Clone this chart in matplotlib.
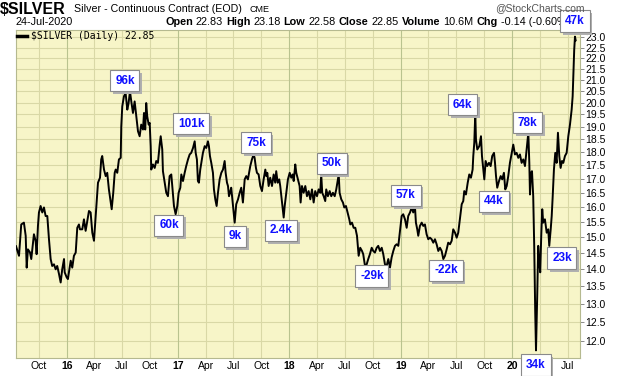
import matplotlib
matplotlib.use('Agg')
import matplotlib.pyplot as plt
import matplotlib.patheffects as pe
from matplotlib.ticker import FixedLocator, FixedFormatter, NullLocator

## DATA (dates as decimal years, daily close)
years = [
    2015.545, 2015.572, 2015.592, 2015.616, 2015.632, 2015.641, 2015.652, 2015.670, 2015.682, 2015.691,
    2015.706, 2015.721, 2015.730, 2015.742, 2015.751, 2015.766, 2015.781, 2015.796, 2015.811, 2015.826,
    2015.841, 2015.856, 2015.870, 2015.886, 2015.901, 2015.915, 2015.931, 2015.946, 2015.960, 2015.976,
    2015.982, 2016.000, 2016.011, 2016.020, 2016.036, 2016.050, 2016.065, 2016.081, 2016.095, 2016.110,
    2016.119, 2016.140, 2016.155, 2016.170, 2016.185, 2016.200, 2016.215, 2016.230, 2016.245, 2016.260,
    2016.269, 2016.281, 2016.299, 2016.310, 2016.319, 2016.335, 2016.350, 2016.364, 2016.379, 2016.395,
    2016.404, 2016.418, 2016.431, 2016.440, 2016.454, 2016.469, 2016.485, 2016.490, 2016.499, 2016.514,
    2016.529, 2016.544, 2016.555, 2016.568, 2016.580, 2016.595, 2016.610, 2016.625, 2016.640, 2016.655,
    2016.669, 2016.685, 2016.694, 2016.705, 2016.714, 2016.723, 2016.736, 2016.745, 2016.754, 2016.759,
    2016.774, 2016.790, 2016.804, 2016.819, 2016.835, 2016.844, 2016.858, 2016.864, 2016.880, 2016.894,
    2016.909, 2016.924, 2016.939, 2016.948, 2016.963, 2016.978, 2016.993, 2017.005, 2017.020, 2017.029,
    2017.044, 2017.059, 2017.073, 2017.089, 2017.104, 2017.118, 2017.134, 2017.149, 2017.158, 2017.169,
    2017.178, 2017.187, 2017.199, 2017.214, 2017.223, 2017.239, 2017.253, 2017.268, 2017.277, 2017.286,
    2017.298, 2017.313, 2017.322, 2017.334, 2017.346, 2017.358, 2017.373, 2017.388, 2017.403, 2017.418,
    2017.427, 2017.439, 2017.448, 2017.457, 2017.466, 2017.477, 2017.493, 2017.508, 2017.522, 2017.538,
    2017.553, 2017.567, 2017.582, 2017.598, 2017.612, 2017.627, 2017.648, 2017.663, 2017.678, 2017.687,
    2017.699, 2017.708, 2017.723, 2017.738, 2017.753, 2017.768, 2017.783, 2017.792, 2017.801, 2017.813,
    2017.827, 2017.843, 2017.858, 2017.872, 2017.881, 2017.894, 2017.908, 2017.917, 2017.933, 2017.948,
    2017.957, 2017.971, 2017.986, 2018.002, 2018.016, 2018.029, 2018.038, 2018.052, 2018.061, 2018.076,
    2018.091, 2018.100, 2018.112, 2018.127, 2018.142, 2018.157, 2018.172, 2018.187, 2018.202, 2018.217,
    2018.231, 2018.247, 2018.262, 2018.276, 2018.285, 2018.294, 2018.307, 2018.321, 2018.330, 2018.345,
    2018.361, 2018.375, 2018.390, 2018.406, 2018.420, 2018.442, 2018.450, 2018.465, 2018.480, 2018.492,
    2018.507, 2018.522, 2018.537, 2018.546, 2018.561, 2018.576, 2018.591, 2018.606, 2018.621, 2018.635,
    2018.651, 2018.662, 2018.678, 2018.693, 2018.707, 2018.722, 2018.738, 2018.752, 2018.767, 2018.783,
    2018.797, 2018.812, 2018.828, 2018.842, 2018.857, 2018.872, 2018.887, 2018.902, 2018.917, 2018.932,
    2018.947, 2018.962, 2018.977, 2018.992, 2019.007, 2019.021, 2019.037, 2019.052, 2019.066, 2019.082,
    2019.097, 2019.111, 2019.126, 2019.135, 2019.147, 2019.156, 2019.171, 2019.187, 2019.201, 2019.216,
    2019.231, 2019.246, 2019.261, 2019.276, 2019.291, 2019.306, 2019.321, 2019.336, 2019.351, 2019.366,
    2019.381, 2019.396, 2019.411, 2019.425, 2019.441, 2019.456, 2019.470, 2019.486, 2019.501, 2019.515,
    2019.530, 2019.546, 2019.560, 2019.569, 2019.584, 2019.600, 2019.614, 2019.629, 2019.644, 2019.650,
    2019.659, 2019.668, 2019.674, 2019.686, 2019.704, 2019.719, 2019.728, 2019.740, 2019.749, 2019.761,
    2019.775, 2019.791, 2019.806, 2019.820, 2019.836, 2019.845, 2019.854, 2019.865, 2019.881, 2019.896,
    2019.910, 2019.925, 2019.937, 2019.950, 2019.964, 2019.979, 2019.995, 2020.009, 2020.024, 2020.039,
    2020.054, 2020.069, 2020.084, 2020.099, 2020.114, 2020.129, 2020.144, 2020.153, 2020.159, 2020.168,
    2020.177, 2020.188, 2020.197, 2020.206, 2020.213, 2020.224, 2020.233, 2020.242, 2020.251, 2020.260,
    2020.269, 2020.278, 2020.293, 2020.309, 2020.323, 2020.332, 2020.345, 2020.354, 2020.363, 2020.374,
    2020.386, 2020.398, 2020.410, 2020.422, 2020.434, 2020.446, 2020.458, 2020.473, 2020.488, 2020.503,
    2020.518, 2020.533, 2020.542, 2020.548, 2020.556, 2020.563, 2020.569,
]
prices = [
    14.71, 14.41, 15.41, 15.47, 15.04, 14.05, 14.61, 14.52, 14.31, 14.61,
    15.09, 14.88, 14.46, 15.36, 15.81, 16.03, 15.81, 15.98, 15.69, 15.69,
    14.93, 14.31, 14.10, 14.15, 14.00, 14.10, 13.86, 13.61, 14.00, 14.31,
    13.91, 13.76, 13.71, 13.91, 14.26, 14.05, 14.41, 14.51, 15.30, 15.41,
    15.25, 15.25, 15.58, 15.20, 15.52, 15.86, 15.81, 15.14, 14.88, 15.69,
    16.15, 16.85, 17.03, 17.71, 17.84, 17.33, 17.09, 17.21, 16.61, 16.15,
    15.92, 16.49, 17.21, 17.33, 17.21, 17.71, 17.77, 19.01, 19.84, 20.27,
    20.41, 19.70, 19.95, 20.49, 20.05, 19.56, 20.05, 19.42, 18.81, 18.61,
    19.08, 18.88, 19.56, 18.88, 19.98, 19.42, 19.08, 19.15, 18.22, 17.33,
    17.52, 17.39, 17.65, 17.58, 18.28, 18.61, 18.09, 17.27, 16.85, 16.49,
    16.37, 17.09, 17.15, 16.73, 16.03, 15.75, 16.03, 16.49, 16.67, 17.15,
    16.91, 17.21, 17.46, 17.71, 17.90, 17.96, 18.15, 18.41, 17.96, 17.71,
    16.91, 16.85, 17.33, 17.71, 17.96, 18.22, 18.15, 18.41, 18.22, 17.84,
    17.58, 17.21, 16.61, 16.26, 16.03, 16.49, 16.97, 17.21, 17.33, 17.65,
    17.21, 16.85, 16.73, 16.37, 16.49, 16.67, 16.03, 15.47, 16.09, 16.26,
    16.49, 16.67, 16.15, 16.97, 17.09, 16.97, 17.46, 17.71, 17.90, 17.77,
    17.39, 17.21, 17.15, 16.73, 16.55, 16.97, 17.33, 17.09, 17.21, 16.73,
    17.03, 16.73, 17.15, 16.85, 17.27, 16.85, 16.97, 16.73, 16.15, 15.64,
    16.03, 16.49, 16.97, 17.21, 17.03, 17.15, 16.91, 17.52, 17.21, 16.97,
    16.73, 16.15, 16.73, 16.49, 16.73, 16.37, 16.55, 16.26, 16.61, 16.15,
    16.55, 16.37, 16.61, 16.49, 17.15, 16.49, 16.37, 16.20, 16.61, 16.37,
    16.55, 16.37, 16.49, 16.37, 16.61, 17.15, 16.49, 16.26, 16.15, 15.98,
    16.03, 15.81, 15.58, 15.41, 15.47, 15.30, 15.30, 15.04, 14.41, 14.66,
    14.56, 14.46, 14.10, 14.15, 14.31, 14.46, 14.66, 14.56, 14.51, 14.66,
    14.72, 14.56, 14.66, 14.46, 14.15, 14.10, 14.31, 14.05, 14.36, 14.56,
    14.72, 14.77, 14.72, 15.20, 15.69, 15.75, 15.58, 15.30, 15.69, 15.81,
    15.98, 15.81, 16.03, 15.47, 15.25, 15.04, 15.36, 15.47, 15.36, 15.41,
    15.09, 14.93, 14.98, 14.93, 14.82, 14.93, 14.77, 14.56, 14.66, 14.56,
    14.31, 14.41, 14.61, 14.82, 14.77, 14.88, 15.25, 15.14, 14.98, 15.14,
    15.58, 16.09, 16.20, 16.55, 16.43, 16.85, 17.15, 17.03, 17.33, 17.84,
    18.35, 19.56, 18.48, 18.09, 18.22, 18.61, 17.84, 17.33, 16.97, 17.65,
    17.46, 17.58, 17.46, 17.84, 17.96, 17.58, 17.09, 16.67, 16.91, 17.09,
    16.97, 17.21, 16.61, 16.73, 17.09, 17.58, 17.96, 18.28, 17.90, 17.96,
    17.77, 17.90, 17.58, 17.71, 17.46, 18.09, 18.75, 17.58, 16.43, 17.21,
    17.27, 16.37, 14.72, 12.77, 11.77, 13.23, 14.72, 14.21, 13.91, 15.04,
    15.92, 15.47, 15.58, 15.14, 15.25, 14.72, 15.25, 15.69, 16.37, 17.33,
    17.96, 17.58, 18.75, 17.84, 17.39, 17.65, 17.58, 17.84, 17.96, 18.61,
    19.08, 19.70, 20.27, 21.14, 22.39, 23.03, 22.85,
]

# net positioning notes placed on the chart
note_labels = ['96k', '101k', '75k', '50k', '64k', '78k', '47k', '60k',
               '9k', '2.4k', '57k', '-29k', '-22k', '44k', '23k', '34k']

y_ticks = [12.0, 12.5, 13.0, 13.5, 14.0, 14.5, 15.0, 15.5, 16.0, 16.5, 17.0,
           17.5, 18.0, 18.5, 19.0, 19.5, 20.0, 20.5, 21.0, 21.5, 22.0, 22.5, 23.0]
tick_years = [2015, 2016, 2017, 2018, 2019, 2020]
quarter_names = ['Jan', 'Apr', 'Jul', 'Oct']
quarter_offsets = [0.0, 0.2466, 0.4959, 0.7479]

header_parts = [('Open', True), ('22.83', False), ('High', True), ('23.18', False),
                ('Low', True), ('22.58', False), ('Close', True), ('22.85', False),
                ('Volume', True), ('10.6M', False), ('Chg', True), ('-0.14 (-0.60%)', False)]

## LAYOUT
W, H = 620, 376
BG = '#f7f5c8'
GRID = '#d9d8a6'
YEAR_GRID = '#b9c38f'
BLUE = '#1010ff'
SANS = ['Liberation Sans', 'DejaVu Sans']

# label box centres (decimal year, price)
note_x = [2016.523, 2017.116, 2017.699, 2018.381, 2019.553, 2020.136, 2020.563, 2016.918,
          2017.511, 2017.924, 2019.046, 2018.740, 2019.405, 2019.836, 2020.446, 2020.213]
note_y = [20.96, 19.12, 18.36, 17.56, 19.91, 19.16, 23.81, 15.38,
          15.02, 15.22, 16.40, 13.80, 13.97, 16.19, 14.34, 11.41]


def px(x, y):
    return x / W, 1 - y / H


fig = plt.figure(figsize=(W / 100, H / 100), dpi=100, facecolor='white')
l, t = px(16, 30)
r, b = px(580, 358)
ax = fig.add_axes([l, b, r - l, t - b])
ax.set_facecolor(BG)

ax.set_yscale('log')
ax.set_xlim(2015.545, 2020.608)
ax.set_ylim(11.58, 23.36)

# grid
for yv in y_ticks:
    ax.axhline(yv, color=GRID, lw=0.8, zorder=0)
xt, xl = [], []
for yr in tick_years:
    for name, off in zip(quarter_names, quarter_offsets):
        pos = yr + off
        if pos < 2015.6 or pos > 2020.6:
            continue
        ax.axvline(pos, color=YEAR_GRID if name == 'Jan' else GRID, lw=0.8, zorder=0)
        # the Apr-2020 label sits under the 34k note box in the original
        if yr == 2020 and name == 'Apr':
            continue
        xt.append(pos)
        xl.append(str(yr)[2:] if name == 'Jan' else name)

ax.plot(years, prices, color='black', lw=1.4, zorder=3,
        label='$SILVER (Daily) 22.85')

ax.yaxis.tick_right()
ax.yaxis.set_major_locator(FixedLocator(y_ticks))
ax.yaxis.set_major_formatter(FixedFormatter(['%.1f' % v for v in y_ticks]))
ax.yaxis.set_minor_locator(NullLocator())
ax.set_xticks(xt)
ax.set_xticklabels(xl)
ax.xaxis.set_minor_locator(NullLocator())
ax.tick_params(axis='y', length=3, width=0.6, color='#777777', pad=1, labelsize=7.5)
ax.tick_params(axis='x', length=0, pad=2.5, labelsize=7.5)
for lab in ax.get_yticklabels():
    lab.set_family(SANS)
for lab in ax.get_xticklabels():
    lab.set_family(SANS)
    if lab.get_text().isdigit():
        lab.set_fontweight('bold')
for sp in ax.spines.values():
    sp.set_color('#b5b98f')
    sp.set_linewidth(0.8)

leg = ax.legend(loc='upper left', frameon=False, handlelength=1.0, handletextpad=0.4,
                borderaxespad=0.0, borderpad=0.15,
                prop={'family': 'DejaVu Sans Mono', 'size': 7})
leg.get_lines()[0].set_linewidth(2.5)

# note boxes with a drop shadow
for txt, xv, yv in zip(note_labels, note_x, note_y):
    tx = ax.text(xv, yv, txt, ha='center', va='center', fontsize=8.5, fontweight='bold',
                 family=SANS, color=BLUE, zorder=6, clip_on=False,
                 bbox=dict(boxstyle='square,pad=0.4', fc='white', ec='#8a8a8a', lw=0.8))
    tx.get_bbox_patch().set_path_effects([
        pe.SimplePatchShadow(offset=(2, -2), shadow_rgbFace='#b0b0b0', alpha=1.0),
        pe.Normal()])

# header
fig.text(*px(0, 9), '$SILVER', fontsize=11.5, fontweight='bold', family=SANS, va='center')
fig.text(*px(74, 9), 'Silver - Continuous Contract (EOD)', fontsize=7.7, family=SANS, va='center')
fig.text(*px(249, 9), 'CME', fontsize=6.5, family=SANS, va='center')
fig.text(*px(585, 8), '@StockCharts.com', fontsize=7.5, family=SANS, color='#555555',
         va='center', ha='right')
fig.text(*px(16, 22), '24-Jul-2020', fontsize=7.8, family=SANS, va='center', zorder=-1)

renderer = fig.canvas.get_renderer()
xp = 165
for s, bold in header_parts:
    tx = fig.text(*px(xp, 22), s, fontsize=7.8, family=SANS, va='center', zorder=-1,
                  fontweight='bold' if bold else 'normal')
    xp += tx.get_window_extent(renderer).width + 3

fig.savefig('out.png', dpi=100, facecolor='white')
